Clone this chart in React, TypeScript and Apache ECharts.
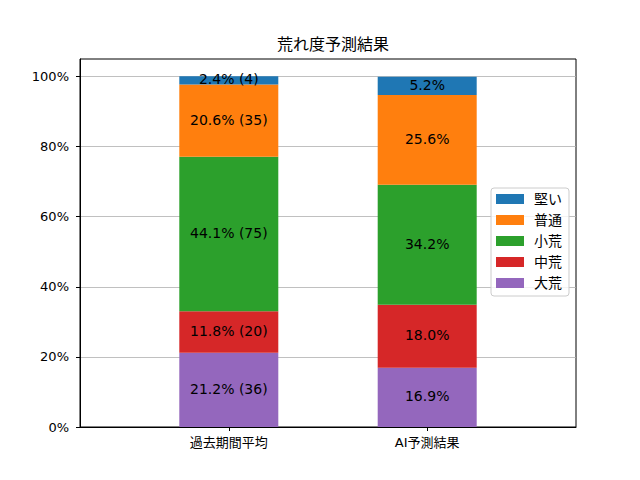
import React, { useEffect, useRef } from "react";
import * as echarts from "echarts";

const categories = ["過去期間平均", "AI予測結果"];
const levels = ["大荒", "中荒", "小荒", "普通", "堅い"];
const colors = ["#9467bd", "#d62728", "#2ca02c", "#ff7f0e", "#1f77b4"];
// percent values per level: [過去期間平均, AI予測結果]
const pctDaiare = [21.2, 16.9];
const pctChuare = [11.8, 18.0];
const pctShoare = [44.1, 34.2];
const pctFutsu = [20.6, 25.6];
const pctKatai = [2.4, 5.2];
// counts for 過去期間平均
const pastCounts = [36, 20, 75, 35, 4];
const yTicks = [0, 20, 40, 60, 80, 100];

const pctByLevel = [pctDaiare, pctChuare, pctShoare, pctFutsu, pctKatai];

const FONT = "'DejaVu Sans', 'Noto Sans CJK JP', sans-serif";

// axis slots: empty padding slots around and between the two bars
const axisSlots = ["", categories[0], "", categories[1], ""];
const slotToCat = (i: number) => (i % 2 === 1 ? (i - 1) / 2 : -1);

export default function App() {
  const ref = useRef<HTMLDivElement>(null);
  useEffect(() => {
    if (!ref.current) return;
    const chart = echarts.init(ref.current, undefined, { renderer: "svg" });
    const series = levels.map((name, li) => ({
      name,
      type: "bar",
      stack: "total",
      barWidth: 99,
      itemStyle: { color: colors[li] },
      label: {
        show: true,
        position: "inside",
        offset: [0, -1],
        color: "#000",
        fontFamily: FONT,
        fontSize: 14,
        formatter: (p: any) => {
          const ci = slotToCat(p.dataIndex);
          if (ci < 0) return "";
          const v = pctByLevel[li][ci].toFixed(1);
          return ci === 0 ? `${v}% (${pastCounts[li]})` : `${v}%`;
        },
      },
      data: axisSlots.map((_, si) => {
        const ci = slotToCat(si);
        return ci < 0 ? "-" : pctByLevel[li][ci];
      }),
    }));
    chart.setOption({
      animation: false,
      backgroundColor: "#fff",
      textStyle: { fontFamily: FONT },
      title: {
        text: "荒れ度予測結果",
        left: 328,
        textAlign: "center",
        top: 31,
        textStyle: { fontFamily: FONT, fontSize: 16, fontWeight: "normal", color: "#000" },
      },
      grid: {
        left: 80,
        right: 64,
        top: 59,
        bottom: 53,
        show: true,
        borderColor: "#000",
        borderWidth: 1,
        backgroundColor: "transparent",
      },
      legend: {
        orient: "vertical",
        left: 491,
        top: 188,
        data: ["堅い", "普通", "小荒", "中荒", "大荒"],
        icon: "rect",
        itemWidth: 28,
        itemHeight: 10,
        itemGap: 7,
        padding: [4, 7, 6, 5],
        borderColor: "#cccccc",
        borderWidth: 1,
        borderRadius: 3,
        backgroundColor: "rgba(255,255,255,0.8)",
        textStyle: {
          fontFamily: FONT,
          fontSize: 14,
          lineHeight: 14,
          color: "#000",
          padding: [0, 0, 0, 5],
        },
      },
      xAxis: {
        type: "category",
        data: axisSlots,
        boundaryGap: true,
        splitLine: { show: false },
        axisLine: { show: true, lineStyle: { color: "#000", width: 1 } },
        axisTick: {
          show: true,
          alignWithLabel: true,
          interval: (i: number) => i % 2 === 1,
          length: 4,
          lineStyle: { color: "#000" },
        },
        axisLabel: {
          interval: (i: number) => i % 2 === 1,
          color: "#000",
          fontSize: 13,
          fontFamily: FONT,
          margin: 9,
        },
      },
      yAxis: {
        type: "value",
        min: 0,
        max: 105,
        interval: 20,
        axisLine: { show: true, onZero: false, lineStyle: { color: "#000", width: 1 } },
        axisTick: { show: true, customValues: yTicks, length: 4, lineStyle: { color: "#000" } },
        axisLabel: {
          customValues: yTicks,
          formatter: "{value}%",
          color: "#000",
          fontSize: 13,
          fontFamily: FONT,
          margin: 11,
        },
        splitLine: { show: true, lineStyle: { color: "#b0b0b0", width: 0.8 } },
      },
      series,
    });
    return () => chart.dispose();
  }, []);
  return (
    <div
      ref={ref}
      style={{ position: "fixed", left: 0, top: 0, width: 640, height: 480 }}
    />
  );
}
